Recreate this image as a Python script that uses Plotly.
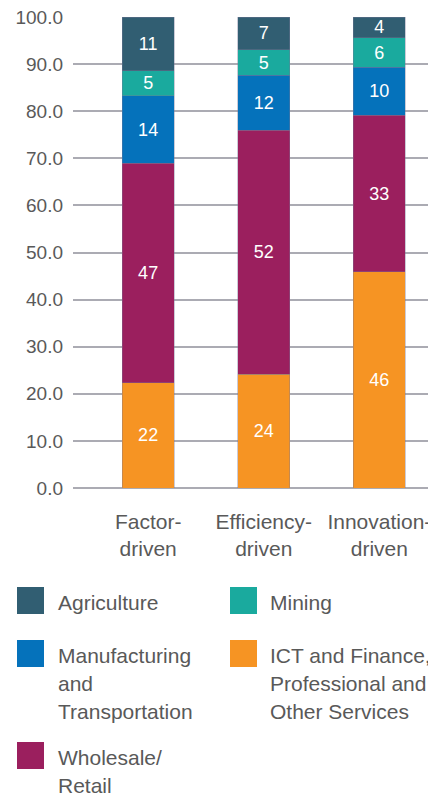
import plotly.graph_objects as go

# -----------------------------
# Data
# -----------------------------
categories = ["Factor-<br>driven", "Efficiency-<br>driven", "Innovation-<br>driven"]

ict = [22.3, 24.2, 45.9]
wholesale = [46.6, 51.8, 33.2]
manufacturing = [14.4, 11.6, 10.2]
mining = [5.3, 5.4, 6.3]
agriculture = [11.4, 7.0, 4.4]

y_ticks = [0, 10, 20, 30, 40, 50, 60, 70, 80, 90, 100]

# stacking order (bottom -> top)
series = [
    ("ICT and Finance,<br>Professional and<br>Other Services", ict, "#f69423"),
    ("Wholesale/<br>Retail", wholesale, "#9b1f5e"),
    ("Manufacturing<br>and<br>Transportation", manufacturing, "#0572bb"),
    ("Mining", mining, "#1aaa9e"),
    ("Agriculture", agriculture, "#315e72"),
]

# legend layout: name -> (column, row)
legend_slots = {
    "Agriculture": (0, 0),
    "Mining": (1, 0),
    "Manufacturing<br>and<br>Transportation": (0, 1),
    "ICT and Finance,<br>Professional and<br>Other Services": (1, 1),
    "Wholesale/<br>Retail": (0, 2),
}

FONT = "Liberation Sans, Arial, sans-serif"
TEXT_GREY = "#595959"

# the page body has an 8px margin, so the figure is drawn 8px in from the window edge
OFF = 8
WIN_W, WIN_H = 436, 798
W, H = WIN_W - OFF, WIN_H - OFF
PL, PR, PT, PB = 73, 436, 17, 488  # plot area in window px


def px_x(px):
    return (px - PL) / (PR - PL)


def px_y(py):
    return (PB - py) / (PB - PT)


fig = go.Figure()

for name, vals, color in series:
    fig.add_trace(go.Bar(
        x=categories,
        y=vals,
        name=name,
        marker=dict(color=color, line=dict(color="rgba(120,120,150,0.55)", width=0.7)),
        texttemplate="%{y:.0f}",
        textposition="inside",
        insidetextanchor="middle",
        textangle=0,
        constraintext="none",
        textfont=dict(color="white", size=18, family=FONT),
        width=0.45,
        showlegend=False,
        hoverinfo="skip",
    ))

# -----------------------------
# Manual legend (large squares)
# -----------------------------
col_sq_x = [17, 230]
col_txt_x = [56, 268]
row_sq_y = [587, 640, 742]  # top of square in window px
sq = 27
line_h = 28

for name, vals, color in series:
    c, r = legend_slots[name]
    x0 = col_sq_x[c]
    y0 = row_sq_y[r]
    fig.add_shape(
        type="rect", xref="paper", yref="paper",
        x0=px_x(x0), x1=px_x(x0 + sq),
        y0=px_y(y0 + sq), y1=px_y(y0),
        fillcolor=color, line=dict(width=0),
    )
    for i, line in enumerate(name.split("<br>")):
        fig.add_annotation(
            xref="paper", yref="paper",
            x=px_x(col_txt_x[c]),
            y=px_y(y0 + sq / 2 + 2 + i * line_h),
            xanchor="left", yanchor="middle",
            text=line, showarrow=False, align="left",
            font=dict(size=21, color=TEXT_GREY, family=FONT),
        )

# -----------------------------
# Layout
# -----------------------------
fig.update_layout(
    barmode="stack",
    width=W,
    height=H,
    margin=dict(l=PL - OFF, r=WIN_W - PR, t=PT - OFF, b=WIN_H - PB, autoexpand=False),
    plot_bgcolor="white",
    paper_bgcolor="white",
    font=dict(family=FONT, color=TEXT_GREY),
    showlegend=False,
)

fig.update_xaxes(
    range=[-0.65, 2.49],
    tickfont=dict(size=21, color=TEXT_GREY),
    showgrid=False,
    showline=False,
    ticks="",
    automargin=False,
    tickangle=0,
    ticklabelstandoff=19,
    ticklabeloverflow="allow",
)

fig.update_yaxes(
    range=[0, 100],
    tickvals=y_ticks,
    tickformat=".1f",
    tickfont=dict(size=19, color=TEXT_GREY),
    showgrid=True,
    gridcolor="#ababb3",
    gridwidth=2,
    zeroline=True,
    zerolinecolor="#ababb3",
    zerolinewidth=2,
    ticks="",
    automargin=False,
    ticklabelstandoff=9,
    ticklabeloverflow="allow",
)

fig.write_html("out.html")
